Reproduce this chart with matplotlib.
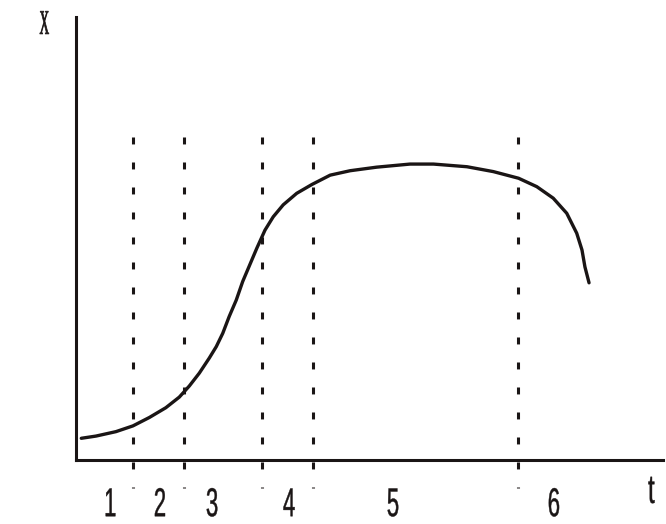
import matplotlib
matplotlib.use("Agg")
import matplotlib.pyplot as plt
from matplotlib.patheffects import AbstractPathEffect
from matplotlib.transforms import Affine2D

# growth curve (t, X in arbitrary units)
curve_t = [0.09, 0.34, 0.68, 0.97, 1.25, 1.53, 1.76, 1.93, 2.10, 2.27, 2.39,
           2.50, 2.61, 2.73, 2.84, 3.08, 3.22, 3.36, 3.53, 3.76, 4.02, 4.33,
           4.67, 5.12, 5.69, 6.09, 6.66, 7.11, 7.54, 7.85, 8.13, 8.36, 8.53,
           8.62, 8.67, 8.74]
curve_x = [0.49, 0.54, 0.64, 0.77, 0.96, 1.18, 1.42, 1.67, 1.96, 2.30, 2.56,
           2.86, 3.24, 3.61, 4.03, 4.78, 5.19, 5.49, 5.76, 6.02, 6.22, 6.43,
           6.53, 6.61, 6.68, 6.68, 6.62, 6.51, 6.36, 6.17, 5.91, 5.57, 5.12,
           4.74, 4.36, 4.00]

# phase boundaries and phase labels
phase_lines = [0.97, 1.84, 3.17, 4.04, 7.53]
phase_labels = ["1", "2", "3", "4", "5", "6"]
label_t = [0.58, 1.43, 2.32, 3.63, 5.40, 8.14]

ink = "#1a1515"
plt.rcParams["lines.scale_dashes"] = False


class Squeeze(AbstractPathEffect):
    """Narrow the glyphs horizontally around their own centre (and thicken a bit)."""

    def __init__(self, sx, stroke=0.3):
        super().__init__()
        self.sx = sx
        self.stroke = stroke

    def draw_path(self, renderer, gc, tpath, affine, rgbFace=None):
        ext = tpath.get_extents(affine)
        cx = (ext.x0 + ext.x1) / 2
        squeeze = Affine2D().translate(-cx, 0).scale(self.sx, 1).translate(cx, 0)
        gc0 = renderer.new_gc()
        gc0.copy_properties(gc)
        gc0.set_linewidth(self.stroke)
        gc0.set_foreground(rgbFace)
        renderer.draw_path(gc0, tpath, affine + squeeze, rgbFace)
        gc0.restore()


fig = plt.figure(figsize=(6.66, 5.24), dpi=100)
ax = fig.add_axes([76 / 666, 64 / 524, 587 / 666, 443 / 524])
ax.set_xlim(0, 10)
ax.set_ylim(0, 10)

for side in ["top", "right"]:
    ax.spines[side].set_visible(False)
for side in ["left", "bottom"]:
    ax.spines[side].set_linewidth(2.2)
    ax.spines[side].set_color(ink)
ax.set_xticks([])
ax.set_yticks([])

# dashed phase boundaries (run a bit below the t axis)
for t in phase_lines:
    ax.plot([t, t], [7.29, -0.64], color=ink, lw=2.2,
            linestyle=(0, (5, 13)), clip_on=False)

ax.plot(curve_t, curve_x, color=ink, lw=2.4, solid_joinstyle="round",
        solid_capstyle="round")

for t, lab in zip(label_t, phase_labels):
    ax.text(t, -1.02, lab, ha="center", va="center", fontsize=29,
            family="Liberation Sans", color=ink, clip_on=False,
            path_effects=[Squeeze(0.55)])

ax.text(9.80, -0.72, "t", ha="center", va="center", fontsize=29,
        family="Liberation Sans", color=ink, clip_on=False,
        path_effects=[Squeeze(0.6)])
ax.text(-0.54, 9.81, "X", ha="center", va="center", fontsize=25,
        family="Liberation Serif", color=ink, clip_on=False,
        path_effects=[Squeeze(0.38, stroke=0.5)])

fig.savefig("out.png", dpi=100)
